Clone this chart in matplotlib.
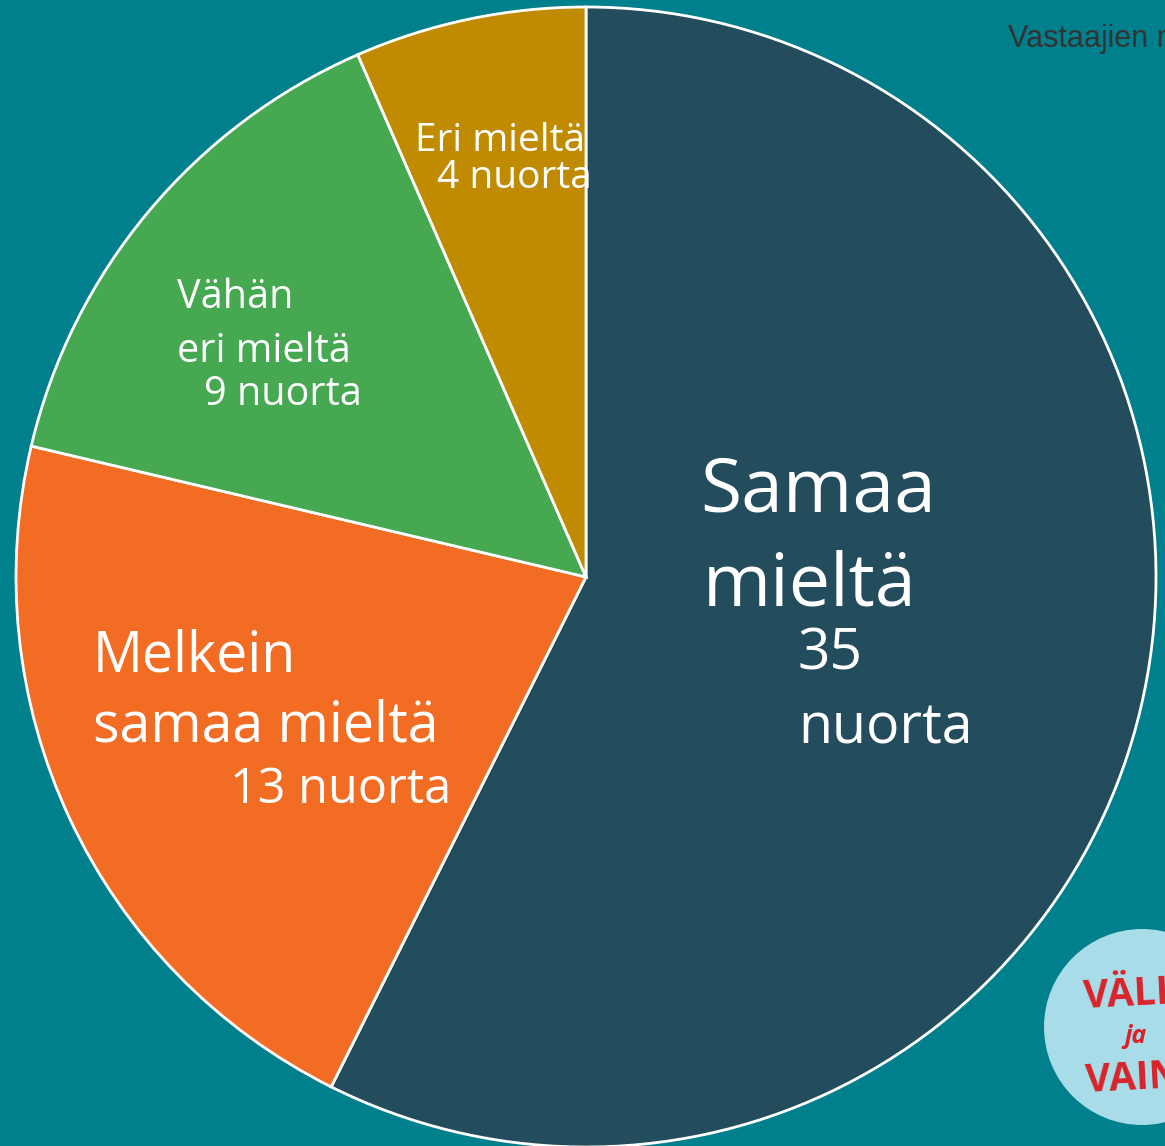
import matplotlib
matplotlib.use("Agg")
import matplotlib.pyplot as plt
from matplotlib.patches import Circle

# data
labels = ["Samaa mieltä", "Melkein samaa mieltä", "Vähän eri mieltä", "Eri mieltä"]
counts = [35, 13, 9, 4]
colors = ["#234d5c", "#f26c24", "#46a851", "#c08b00"]

W, H = 1165, 1146
BG = "#007f8c"

fig = plt.figure(figsize=(W / 100, H / 100), dpi=100, facecolor=BG)
ax = fig.add_axes([0, 0, 1, 1])
ax.set_facecolor(BG)

cx, cy, r = 586, H - 577, 570
ax.pie(counts, colors=colors, startangle=90, counterclock=False,
       center=(cx, cy), radius=r,
       wedgeprops=dict(edgecolor="white", linewidth=2))

ax.set_xlim(0, W)
ax.set_ylim(0, H)
ax.set_aspect("equal")
ax.axis("off")

font = ["Open Sans", "DejaVu Sans"]

def lab(x, y, s, size):
    # y = baseline, in pixels from the top
    ax.text(x, H - y, s, fontsize=size, color="white", family=font,
            ha="left", va="baseline")

# Samaa mieltä
lab(700, 512, "Samaa", 54)
lab(703, 605, "mieltä", 53)
lab(798, 670, "35", 41)
lab(798, 743, "nuorta", 40)
# Melkein samaa mieltä
lab(93, 672, "Melkein", 40)
lab(93, 742, "samaa mieltä", 40)
lab(230, 803, "13 nuorta", 35)
# Vähän eri mieltä
lab(177, 308, "Vähän", 28.5)
lab(177, 362, "eri mieltä", 28.5)
lab(204, 405, "9 nuorta", 28.5)
# Eri mieltä
lab(415, 151, "Eri mieltä", 28)
lab(437, 188, "4 nuorta", 28)

# title, cut off at the right edge as in the original
ax.text(1008, H - 47, "Vastaajien määrä", fontsize=22, color="#333333",
        family=["Liberation Sans", "DejaVu Sans"], ha="left", va="baseline")

# logo circle
ax.add_patch(Circle((1142, H - 1027), 98, facecolor="#a8dce8", edgecolor="none"))
ax.text(1082, H - 1008, "VÄLI", fontsize=28, color="#d9232a", fontweight="bold",
        family=font, ha="left", va="baseline", rotation=3)
ax.text(1124, H - 1043, "ja", fontsize=18, color="#d9232a", fontweight="bold",
        family=font, ha="left", va="baseline", style="italic")
ax.text(1084, H - 1092, "VAIN", fontsize=28, color="#d9232a", fontweight="bold",
        family=font, ha="left", va="baseline", rotation=3)

fig.savefig("out.png", dpi=100, facecolor=BG)
